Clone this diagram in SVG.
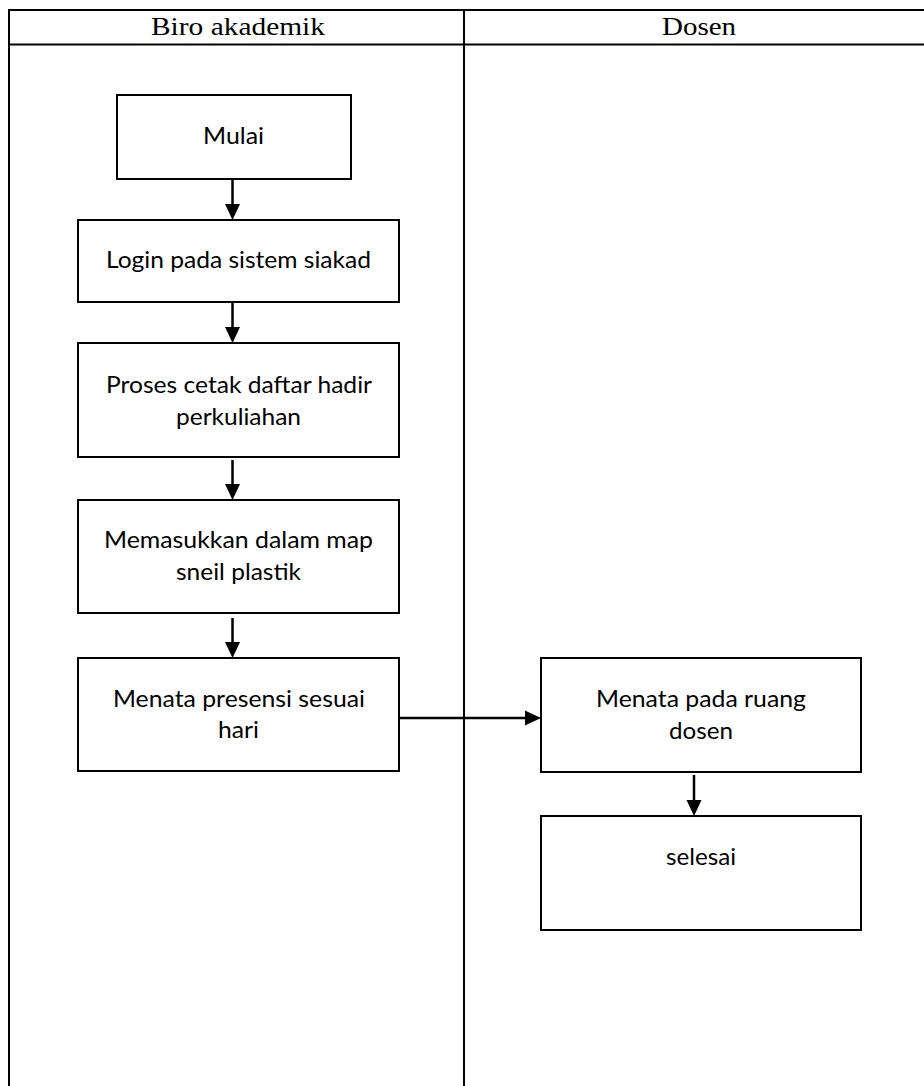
<svg xmlns="http://www.w3.org/2000/svg" width="924" height="1086" viewBox="0 0 924 1086">
<style>
.grid{stroke:#000;stroke-width:2;fill:none}
.box{fill:#fff;stroke:#000;stroke-width:2}
.hdr{font-family:"Liberation Serif",serif;font-size:26px;fill:#000}
.lbl{font-family:Lato,"Open Sans",sans-serif;font-size:24px;fill:#000}
.arr{stroke:#000;stroke-width:2.5;fill:none;marker-end:url(#ah)}
</style>
<defs>
<marker id="ah" markerUnits="userSpaceOnUse" markerWidth="16" markerHeight="16" refX="11" refY="8" orient="auto">
<path d="M0,0.5 L16,8 L0,15.5 z" fill="#000"/>
</marker>
</defs>
<rect width="924" height="1086" fill="#fff"/>
<g id="table">
<line class="grid" x1="8" y1="10" x2="924" y2="10"/>
<line class="grid" x1="8" y1="44.5" x2="924" y2="44.5"/>
<line class="grid" x1="9" y1="9" x2="9" y2="1086"/>
<line class="grid" x1="464" y1="9" x2="464" y2="1086"/>
<text class="hdr" x="151" y="34.5" textLength="174" lengthAdjust="spacingAndGlyphs">Biro akademik</text>
<text class="hdr" x="662" y="34.5" textLength="74" lengthAdjust="spacingAndGlyphs">Dosen</text>
</g>
<g id="connectors">
<line class="arr" x1="232.5" y1="179" x2="232.5" y2="215"/>
<line class="arr" x1="232.5" y1="302" x2="232.5" y2="338"/>
<line class="arr" x1="232.5" y1="460" x2="232.5" y2="495"/>
<line class="arr" x1="232.5" y1="618" x2="232.5" y2="653"/>
<line class="arr" x1="399" y1="718" x2="536" y2="718"/>
<line class="arr" x1="694" y1="775" x2="694" y2="811"/>
</g>
<g id="mulai">
<rect class="box" x="117" y="95" width="234" height="84"/>
<text class="lbl" x="203" y="144" textLength="61" lengthAdjust="spacingAndGlyphs">Mulai</text>
</g>
<g id="login">
<rect class="box" x="78" y="220" width="321" height="82"/>
<text class="lbl" x="106" y="268" textLength="265" lengthAdjust="spacingAndGlyphs">Login pada sistem siakad</text>
</g>
<g id="cetak">
<rect class="box" x="78" y="343" width="321" height="114"/>
<text class="lbl" x="106" y="393" textLength="266" lengthAdjust="spacingAndGlyphs">Proses cetak daftar hadir</text>
<text class="lbl" x="176" y="425" textLength="125" lengthAdjust="spacingAndGlyphs">perkuliahan</text>
</g>
<g id="map">
<rect class="box" x="78" y="500" width="321" height="113"/>
<text class="lbl" x="104" y="548" textLength="269" lengthAdjust="spacingAndGlyphs">Memasukkan dalam map</text>
<text class="lbl" x="176" y="580" textLength="125" lengthAdjust="spacingAndGlyphs">sneil plastik</text>
</g>
<g id="presensi">
<rect class="box" x="78" y="658" width="321" height="113"/>
<text class="lbl" x="113" y="707" textLength="252" lengthAdjust="spacingAndGlyphs">Menata presensi sesuai</text>
<text class="lbl" x="218" y="738" textLength="41" lengthAdjust="spacingAndGlyphs">hari</text>
</g>
<g id="ruang">
<rect class="box" x="541" y="658" width="320" height="114"/>
<text class="lbl" x="596" y="707" textLength="210" lengthAdjust="spacingAndGlyphs">Menata pada ruang</text>
<text class="lbl" x="669" y="739" textLength="64" lengthAdjust="spacingAndGlyphs">dosen</text>
</g>
<g id="selesai">
<rect class="box" x="541" y="816" width="320" height="114"/>
<text class="lbl" x="666" y="865" textLength="70" lengthAdjust="spacingAndGlyphs">selesai</text>
</g>
</svg>
